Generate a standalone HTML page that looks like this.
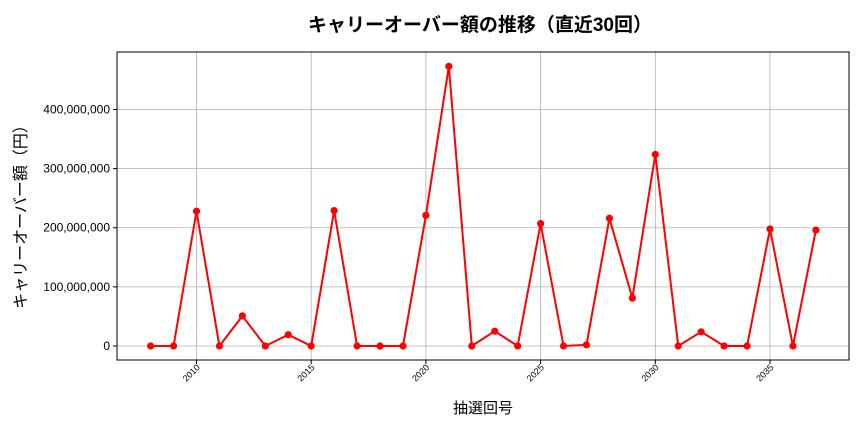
<!DOCTYPE html>
<html><head><meta charset="utf-8"><style>
body{margin:0;background:#fff;}
svg text{font-family:"Liberation Sans","Noto Sans CJK JP",sans-serif;}
</style></head><body>
<svg id="s" width="864" height="432" xmlns="http://www.w3.org/2000/svg">
<rect width="864" height="432" fill="#fff"/>
<text x="480" y="31" font-size="19" font-weight="bold" text-anchor="middle" fill="#000">キャリーオーバー額の推移（直近30回）</text>
<g id="grid" stroke="#b0b0b0" stroke-width="0.8"></g>
<rect x="117" y="52" width="732" height="308" fill="none" stroke="#000" stroke-width="1"/>
<g id="ticks"></g>
<text x="483" y="413" font-size="15" text-anchor="middle">抽選回号</text>
<text transform="translate(26,213) rotate(-90)" font-size="16" text-anchor="middle">キャリーオーバー額（円）</text>
<polyline id="line" fill="none" stroke="#f00" stroke-width="2"/>
<g id="pts" fill="#f00"></g>
</svg>
<script>
const NS="http://www.w3.org/2000/svg";
const X=y=>196.5+(y-2010)*22.94, Y=v=>346-v*0.5913;
const d=[0,0,228,0,51,0,19,0,229,0,0,0,221,473,0,25,0,207,0,2,216,81,324,0,24,0,0,198,0,196];
const g=document.getElementById('grid'),t=document.getElementById('ticks'),p=document.getElementById('pts');
function el(tag,a,par,txt){const e=document.createElementNS(NS,tag);for(const k in a)e.setAttribute(k,a[k]);if(txt)e.textContent=txt;par.appendChild(e);return e;}
for(let yr=2010;yr<=2035;yr+=5){const x=X(yr);el('line',{x1:x,x2:x,y1:52,y2:360},g);el('line',{x1:x,x2:x,y1:360,y2:364,stroke:'#000'},t);
el('text',{transform:`translate(${x+4},${368}) rotate(-45)`,'font-size':9,'text-anchor':'end'},t,yr);}
for(let v=0;v<=400;v+=100){const y=Y(v);el('line',{x1:117,x2:849,y1:y,y2:y},g);el('line',{x1:113,x2:117,y1:y,y2:y,stroke:'#000'},t);
el('text',{x:110,y:y+4,'font-size':12,'text-anchor':'end'},t,v?(v+',000,000'):'0');}
let pts=[];d.forEach((v,i)=>{const x=X(2008+i),y=Y(v);pts.push(x+','+y);el('circle',{cx:x,cy:y,r:3.6},p);});
document.getElementById('line').setAttribute('points',pts.join(' '));
</script>
</body></html>
